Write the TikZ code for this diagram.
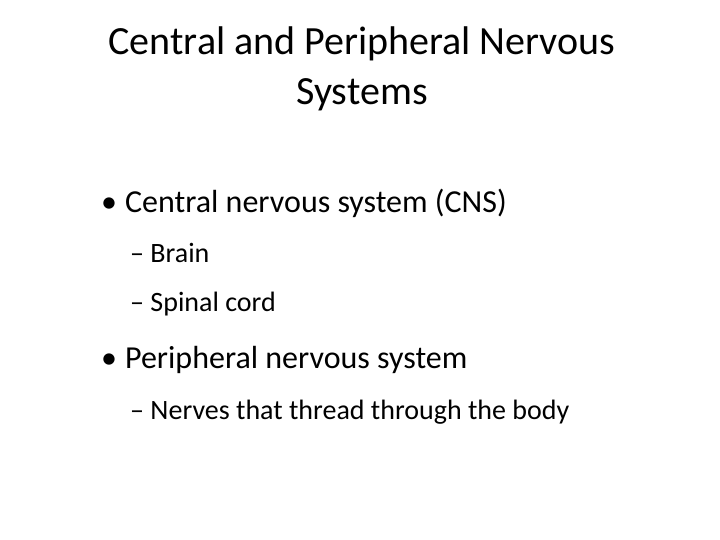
\documentclass[tikz,border=0pt]{standalone}
\usepackage{fontspec}
\setmainfont{Carlito}
\begin{document}
\begin{tikzpicture}[x=1pt,y=-1pt,
  title/.style={font=\fontsize{40}{50}\selectfont,align=center,inner sep=0pt},
  lvl1/.style={anchor=west,font=\fontsize{32}{38}\selectfont,inner sep=0pt},
  lvl2/.style={anchor=west,font=\fontsize{28}{34}\selectfont,inner sep=0pt}]
\useasboundingbox (0,0) rectangle (720,540);
\node[title] (t) at (362,69) {Central and Peripheral Nervous\\Systems};
\node[lvl1] (a) at (101,203) {•\hspace{8pt}Central nervous system (CNS)};
\node[lvl2] (b) at (130,253) {– Brain};
\node[lvl2] (c) at (130,304) {– Spinal cord};
\node[lvl1] (d) at (101,360) {•\hspace{8pt}Peripheral nervous system};
\node[lvl2] (e) at (130,412) {– Nerves that thread through the body};
\end{tikzpicture}
\end{document}
